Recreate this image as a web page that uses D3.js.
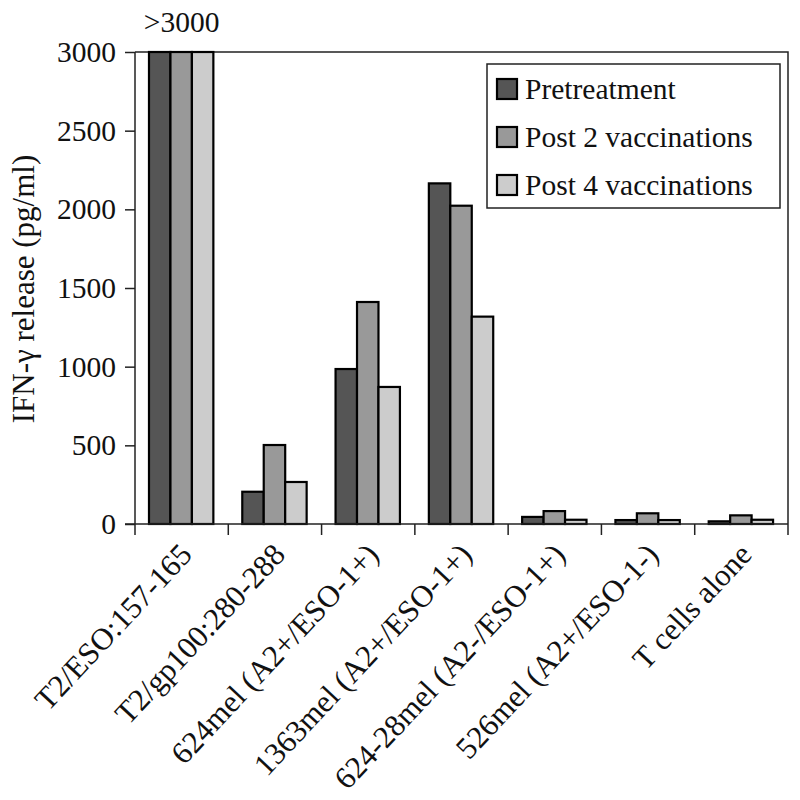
<!DOCTYPE html>
<html>
<head>
<meta charset="utf-8">
<script src="https://cdn.jsdelivr.net/npm/d3@7"></script>
<style>
  body { margin: 0; background: white; }
  text { font-family: 'Liberation Serif', 'Times New Roman', serif; fill: #111; }
</style>
</head>
<body>
<script>
/* DATA */
var categories = ['T2/ESO:157-165', 'T2/gp100:280-288', '624mel (A2+/ESO-1+)',
    '1363mel (A2+/ESO-1+)', '624-28mel (A2-/ESO-1+)', '526mel (A2+/ESO-1-)', 'T cells alone'];
var seriesNames = ['Pretreatment', 'Post 2 vaccinations', 'Post 4 vaccinations'];
var pretreatment = [3000, 205, 985, 2165, 45, 25, 17];
var post2 = [3000, 502, 1411, 2023, 82, 68, 55];
var post4 = [3000, 267, 871, 1318, 27, 25, 27];
var yTicks = [0, 500, 1000, 1500, 2000, 2500, 3000];
var seriesColors = ['#555555', '#999999', '#cccccc'];

/* LAYOUT */
var width = 800;
var height = 800;
var plotLeft = 135, plotRight = 788, plotTop = 52, plotBottom = 524;
var tickFont = '29.5px';
var labelFont = '31px';

const seriesValues = [pretreatment, post2, post4];

const svg = d3.select('body').append('svg')
    .attr('width', width)
    .attr('height', height);

svg.append('rect')
    .attr('width', width)
    .attr('height', height)
    .attr('fill', 'white');

// scales
const x = d3.scaleBand()
    .domain(categories)
    .range([plotLeft, plotRight])
    .padding(0);

const xInner = d3.scaleBand()
    .domain(seriesNames)
    .range([x.bandwidth() * 0.15, x.bandwidth() * 0.84])
    .padding(0);

const y = d3.scaleLinear()
    .domain([0, 3000])
    .range([plotBottom, plotTop]);

// plot frame (top and right)
svg.append('path')
    .attr('d', `M${plotLeft},${plotTop}H${plotRight}V${plotBottom}`)
    .attr('fill', 'none')
    .attr('stroke', '#222')
    .attr('stroke-width', 1.5);

// bars
const groups = svg.append('g').selectAll('g')
    .data(categories)
    .join('g')
    .attr('transform', d => `translate(${x(d)},0)`);

groups.selectAll('rect')
    .data((d, i) => seriesNames.map((s, j) => ({ s: s, v: seriesValues[j][i], c: seriesColors[j] })))
    .join('rect')
    .attr('x', d => xInner(d.s))
    .attr('y', d => y(d.v))
    .attr('width', xInner.bandwidth())
    .attr('height', d => y(0) - y(d.v))
    .attr('fill', d => d.c)
    .attr('stroke', '#000')
    .attr('stroke-width', 2.2);

// y axis
const yAxis = svg.append('g')
    .attr('transform', `translate(${plotLeft},0)`)
    .call(d3.axisLeft(y).tickValues(yTicks).tickFormat(d3.format('d')).tickSize(10).tickPadding(9));
yAxis.select('.domain').attr('d', `M0,${plotTop}V${plotBottom + 11}`).attr('stroke', '#222').attr('stroke-width', 1.5);
yAxis.selectAll('.tick line').attr('stroke', '#222').attr('stroke-width', 1.5);
yAxis.selectAll('.tick text')
    .style('font-family', "'Liberation Serif', serif")
    .style('font-size', tickFont)
    .attr('fill', '#111');

// x axis with ticks between categories
const xAxis = svg.append('g')
    .attr('transform', `translate(0,${plotBottom})`);
xAxis.append('line')
    .attr('x1', plotLeft - 10).attr('x2', plotRight)
    .attr('stroke', '#222').attr('stroke-width', 1.5);
xAxis.selectAll('.sep')
    .data(categories)
    .join('line')
    .attr('class', 'sep')
    .attr('x1', d => x(d) + x.bandwidth())
    .attr('x2', d => x(d) + x.bandwidth())
    .attr('y1', 0).attr('y2', 11)
    .attr('stroke', '#222').attr('stroke-width', 1.5);

// category labels rotated
xAxis.selectAll('.lab')
    .data(categories)
    .join('text')
    .attr('class', 'lab')
    .attr('text-anchor', 'end')
    .attr('transform', d => `translate(${x(d) + x.bandwidth() / 2 + 12},${32}) rotate(-47)`)
    .style('font-size', labelFont)
    .text(d => d);

// y axis title
svg.append('text')
    .attr('transform', `translate(34,${(155 + 423) / 2}) rotate(-90)`)
    .attr('text-anchor', 'middle')
    .style('font-size', labelFont)
    .text('IFN-γ release (pg/ml)');

// >3000 annotation
svg.append('text')
    .attr('x', x(categories[0]) + x.bandwidth() / 2)
    .attr('y', 32)
    .attr('text-anchor', 'middle')
    .style('font-size', tickFont)
    .text('>3000');

// legend
const legend = svg.append('g').attr('transform', 'translate(487,64)');
legend.append('rect')
    .attr('width', 293)
    .attr('height', 144)
    .attr('fill', 'white')
    .attr('stroke', '#222')
    .attr('stroke-width', 1.5);

const items = legend.selectAll('g')
    .data(seriesNames)
    .join('g')
    .attr('transform', (d, i) => `translate(10,${25 + i * 48})`);

items.append('rect')
    .attr('x', 0).attr('y', -10)
    .attr('width', 20).attr('height', 20)
    .attr('fill', (d, i) => seriesColors[i])
    .attr('stroke', '#000')
    .attr('stroke-width', 2.2);

items.append('text')
    .attr('x', 28)
    .attr('y', 10)
    .style('font-size', tickFont)
    .text(d => d);
</script>
</body>
</html>
